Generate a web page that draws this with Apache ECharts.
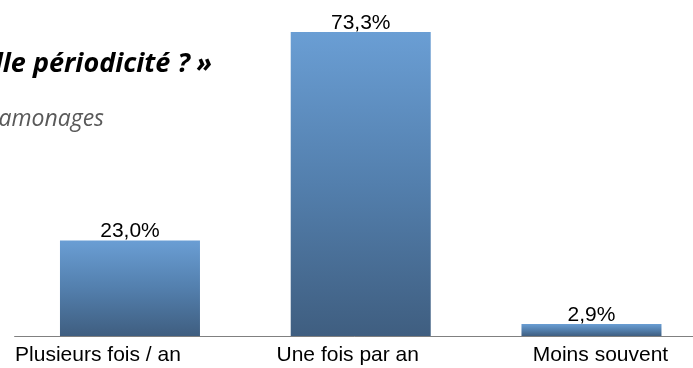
<!DOCTYPE html>
<html>
<head>
<meta charset="utf-8">
<script src="https://cdn.jsdelivr.net/npm/echarts@6/dist/echarts.min.js"></script>
<style>
  html, body { margin: 0; padding: 0; background: #ffffff; }
  #chart { width: 693px; height: 368px; }
</style>
</head>
<body>
<div id="chart"></div>
<script>
// Survey answers: how often the chimney sweeping is done
const categories = ['Plusieurs fois / an', 'Une fois par an', 'Moins souvent'];
const shares = [23.0, 73.3, 2.9];
const titleText = '« À quelle périodicité ? »';
const subtitleText = 'Base : ramonages';

const chart = echarts.init(document.getElementById('chart'), null, { renderer: 'canvas' });

// per-category horizontal nudge of the axis labels (rich padding)
const labelStyles = {
  c0: { padding: [0, 64, 0, 0] },
  c1: { padding: [0, 26, 0, 0] },
  c2: { padding: [0, 0, 0, 18] }
};

const barGradient = new echarts.graphic.LinearGradient(0, 0, 0, 1, [
  { offset: 0, color: '#6a9ed4' },
  { offset: 0.5, color: '#537fad' },
  { offset: 1, color: '#3f5e80' }
]);

chart.setOption({
  animation: false,
  backgroundColor: '#ffffff',
  grid: {
    left: 14.6, top: 4.24, width: 692.25, bottom: 32,
    containLabel: false, outerBoundsMode: 'none'
  },
  graphic: [
    {
      type: 'text', x: 212, y: 78,
      style: {
        text: titleText, font: 'italic bold 27px "Open Sans", Lato, sans-serif',
        fill: '#000000', align: 'right', verticalAlign: 'bottom'
      }
    },
    {
      type: 'text', x: 104, y: 131,
      style: {
        text: subtitleText, font: 'italic 23px "Open Sans", Lato, sans-serif',
        fill: '#595959', align: 'right', verticalAlign: 'bottom'
      }
    }
  ],
  xAxis: {
    type: 'category',
    data: categories,
    axisTick: { show: false },
    axisLine: { lineStyle: { color: '#808080', width: 1 } },
    axisLabel: {
      interval: 0,
      margin: 9,
      color: '#000000',
      fontFamily: '"Liberation Sans", Arial, sans-serif',
      fontSize: 21,
      formatter: function (value, index) { return '{c' + index + '|' + value + '}'; },
      rich: labelStyles
    }
  },
  yAxis: { type: 'value', min: 0, max: 80, show: false, splitLine: { show: false } },
  series: [{
    type: 'bar',
    data: shares,
    barWidth: 140,
    itemStyle: { color: barGradient },
    label: {
      show: true,
      position: 'top',
      distance: -1.5,
      color: '#000000',
      fontFamily: '"Liberation Sans", Arial, sans-serif',
      fontSize: 21,
      formatter: function (p) { return p.value.toFixed(1).replace('.', ',') + '%'; }
    }
  }]
});
</script>
</body>
</html>
